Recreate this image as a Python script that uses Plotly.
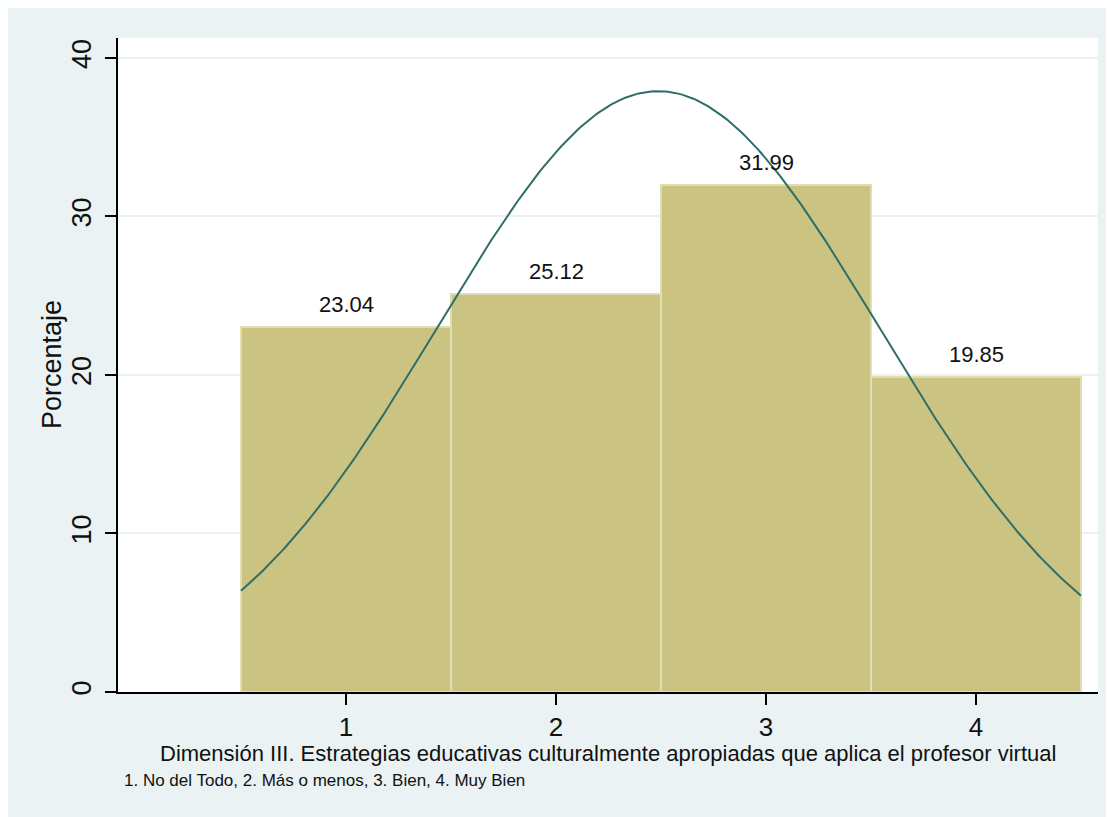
import numpy as np
import plotly.graph_objects as go

categories = [1, 2, 3, 4]
percentages = [23.04, 25.12, 31.99, 19.85]
bar_labels = ["23.04", "25.12", "31.99", "19.85"]
y_ticks = [0, 10, 20, 30, 40]
x_ticks = [1, 2, 3, 4]

# normal density overlay derived from the histogram (percent scale, bin width 1)
cats = np.array(categories, dtype=float)
w = np.array(percentages) / 100.0
mean = float(np.sum(w * cats))
sd = float(np.sqrt(np.sum(w * (cats - mean) ** 2)))
xc = np.linspace(0.5, 4.5, 300)
yc = 100.0 / (sd * np.sqrt(2 * np.pi)) * np.exp(-0.5 * ((xc - mean) / sd) ** 2)

fig = go.Figure()
fig.add_trace(go.Bar(
    x=categories, y=percentages, width=1,
    marker=dict(color="#CBC382", line=dict(color="#E2DDAC", width=2)),
    hoverinfo="skip", showlegend=False,
))
fig.add_trace(go.Scatter(
    x=xc, y=yc, mode="lines",
    line=dict(color="#2E6E69", width=2),
    hoverinfo="skip", showlegend=False,
))

annotations = [
    dict(x=c, y=v, text=t, xref="x", yref="y", showarrow=False,
         yanchor="bottom", yshift=8,
         font=dict(family="Liberation Sans, Arial", size=22, color="#111111"))
    for c, v, t in zip(categories, percentages, bar_labels)
]
annotations += [
    dict(text="Dimensión III. Estrategias educativas culturalmente apropiadas que aplica el profesor virtual",
         xref="paper", yref="paper", x=0.5, y=(692 - 753) / 654,
         xanchor="center", yanchor="middle", showarrow=False,
         font=dict(size=22)),
    dict(text="Porcentaje", textangle=-90,
         xref="paper", yref="paper", x=(52 - 118) / 980, y=0.5,
         xanchor="center", yanchor="middle", showarrow=False,
         font=dict(size=27)),
    dict(text="1. No del Todo, 2. Más o menos, 3. Bien, 4. Muy Bien",
         xref="paper", yref="paper", x=(122 - 118) / 980, y=(692 - 781) / 654,
         xanchor="left", yanchor="middle", showarrow=False,
         font=dict(size=17)),
]

fig.update_layout(
    width=1114, height=817,
    margin=dict(l=110, r=24, t=30, b=133),
    paper_bgcolor="#EAF2F3", plot_bgcolor="white",
    bargap=0,
    font=dict(family="Liberation Sans, Arial", color="#111111"),
    xaxis=dict(
        range=[-0.086, 4.581], tickvals=x_ticks, ticktext=[str(t) for t in x_ticks],
        showgrid=False, zeroline=False,
        showline=True, linecolor="black", linewidth=2,
        ticks="outside", ticklen=11, tickwidth=2, tickcolor="black",
        tickfont=dict(size=26), ticklabelstandoff=0,
    ),
    yaxis=dict(
        range=[0, 41.26], tickvals=y_ticks, ticktext=[str(t) for t in y_ticks],
        showgrid=True, gridcolor="#EAF2F3", gridwidth=1.5, zeroline=False,
        showline=True, linecolor="black", linewidth=2,
        ticks="outside", ticklen=11, tickwidth=2, tickcolor="black",
        tickangle=-90, tickfont=dict(size=27), ticklabelstandoff=3,
    ),
    annotations=annotations,
)

fig.write_html("out.html")
